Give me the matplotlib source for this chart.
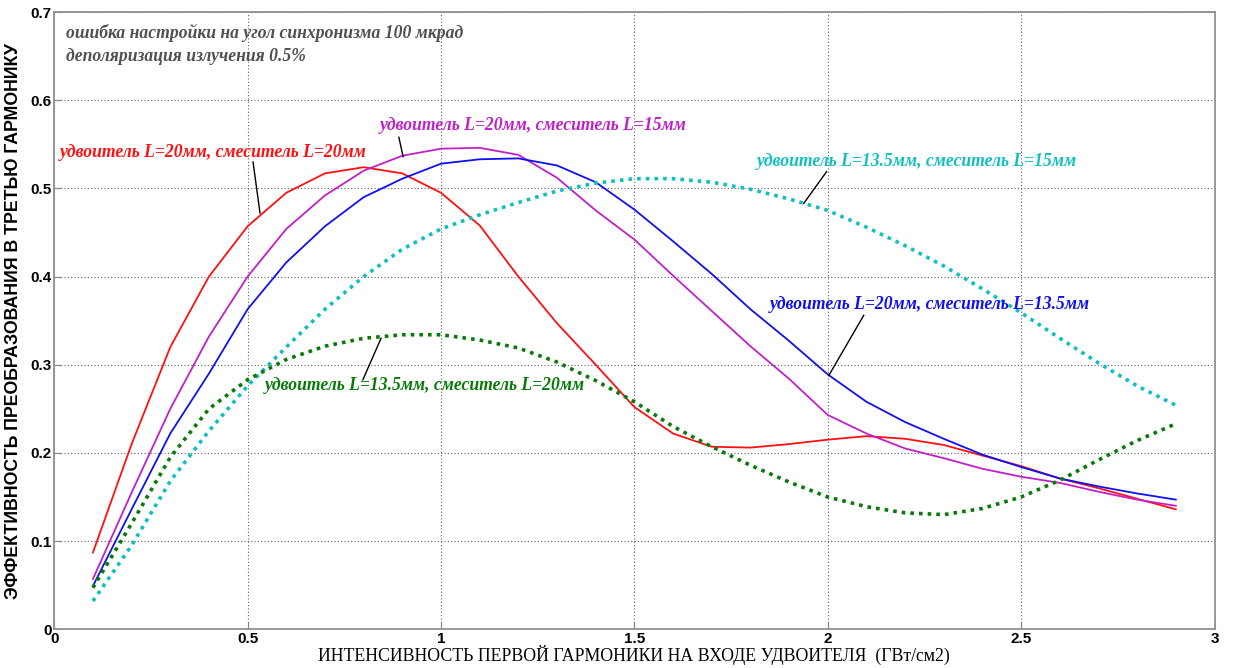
import numpy as np
import matplotlib
matplotlib.use("Agg")
import matplotlib.pyplot as plt

# intensity of the first harmonic, GW/cm2
x = [0.1, 0.2, 0.3, 0.4, 0.5, 0.6, 0.7, 0.8, 0.9, 1.0,
     1.1, 1.2, 1.3, 1.4, 1.5, 1.6, 1.7, 1.8, 1.9, 2.0,
     2.1, 2.2, 2.3, 2.4, 2.5, 2.6, 2.7, 2.8, 2.9]

# doubler L=20mm, mixer L=20mm
red = [0.087, 0.21, 0.32, 0.40, 0.457, 0.495, 0.517, 0.524, 0.517, 0.495,
       0.458, 0.40, 0.347, 0.300, 0.252, 0.222, 0.207, 0.206, 0.210, 0.215,
       0.219, 0.216, 0.209, 0.197, 0.185, 0.171, 0.160, 0.148, 0.136]
# doubler L=20mm, mixer L=15mm
magenta = [0.057, 0.155, 0.25, 0.332, 0.40, 0.454, 0.492, 0.52, 0.537, 0.545,
           0.546, 0.538, 0.512, 0.475, 0.442, 0.401, 0.361, 0.321, 0.284, 0.243,
           0.222, 0.205, 0.194, 0.182, 0.173, 0.166, 0.156, 0.147, 0.140]
# doubler L=20mm, mixer L=13.5mm
blue = [0.049, 0.136, 0.222, 0.29, 0.363, 0.416, 0.457, 0.49, 0.511, 0.528,
        0.533, 0.534, 0.526, 0.507, 0.476, 0.440, 0.403, 0.363, 0.327, 0.289,
        0.258, 0.235, 0.216, 0.198, 0.184, 0.171, 0.162, 0.154, 0.147]
# doubler L=13.5mm, mixer L=15mm
cyan = [0.032, 0.095, 0.168, 0.225, 0.276, 0.32, 0.363, 0.40, 0.431, 0.454,
        0.470, 0.484, 0.497, 0.506, 0.511, 0.511, 0.507, 0.499, 0.488, 0.475,
        0.456, 0.435, 0.412, 0.386, 0.359, 0.330, 0.302, 0.276, 0.254]
# doubler L=13.5mm, mixer L=20mm
green = [0.047, 0.12, 0.195, 0.25, 0.283, 0.306, 0.321, 0.330, 0.334, 0.334,
         0.328, 0.319, 0.303, 0.282, 0.258, 0.230, 0.207, 0.186, 0.167, 0.150,
         0.139, 0.132, 0.130, 0.137, 0.150, 0.169, 0.192, 0.214, 0.233]

xticks = [0, 0.5, 1, 1.5, 2, 2.5, 3]
yticks = [0, 0.1, 0.2, 0.3, 0.4, 0.5, 0.6, 0.7]

fig = plt.figure(figsize=(12.33, 6.68), dpi=100)
ax = fig.add_axes([0.044, 0.058, 0.941, 0.924])

ax.plot(x, red, color="#ff1010", lw=1.3)
ax.plot(x, magenta, color="#c020c8", lw=1.3)
ax.plot(x, blue, color="#1010f0", lw=1.3)
ax.plot(x, cyan, color="#10c0c0", lw=2.6, linestyle=(0, (1, 1.4)))
ax.plot(x, green, color="#087a08", lw=2.6, linestyle=(0, (1, 1.4)))

ax.set_xlim(0, 3)
ax.set_ylim(0, 0.7)
ax.set_xticks(xticks)
ax.set_yticks(yticks)
ax.set_xticklabels([f"{t:g}" for t in xticks], fontfamily="Liberation Sans",
                   fontweight="bold", fontsize=11)
ax.set_yticklabels([f"{t:g}" for t in yticks], fontfamily="Liberation Sans",
                   fontweight="bold", fontsize=11)
ax.tick_params(direction="in", length=5, color="#808080", pad=2)
ax.grid(True, color="#606060", linestyle=(0, (1, 2)), lw=0.8)
for s in ax.spines.values():
    s.set_color("#909090")
    s.set_linewidth(1.3)

fig.text(0.514, 0.004,
         "ИНТЕНСИВНОСТЬ ПЕРВОЙ ГАРМОНИКИ НА ВХОДЕ УДВОИТЕЛЯ  (ГВт/см2)",
         fontfamily="Liberation Serif", fontsize=12.8, ha="center", va="bottom")
ax.set_ylabel("ЭФФЕКТИВНОСТЬ ПРЕОБРАЗОВАНИЯ В ТРЕТЬЮ ГАРМОНИКУ",
              fontfamily="Liberation Sans", fontweight="bold", fontsize=12.8,
              labelpad=6)

note = dict(fontfamily="Liberation Serif", fontstyle="italic",
            fontweight="bold", fontsize=12.7)
ax.text(0.03, 0.676, "ошибка настройки на угол синхронизма 100 мкрад",
        color="#505050", va="center", **note)
ax.text(0.03, 0.649, "деполяризация излучения 0.5%", color="#505050",
        va="center", **note)

labels = [
    ("удвоитель L=20мм, смеситель L=20мм", "#ff1010", (0.015, 0.541),
     (0.514, 0.530), (0.532, 0.472)),
    ("удвоитель L=20мм, смеситель L=15мм", "#c020c8", (0.842, 0.571),
     (0.891, 0.558), (0.902, 0.536)),
    ("удвоитель L=13.5мм, смеситель L=15мм", "#10c0c0", (1.817, 0.530),
     (1.997, 0.519), (1.938, 0.483)),
    ("удвоитель L=20мм, смеситель L=13.5мм", "#1010f0", (1.85, 0.368),
     (2.093, 0.356), (2.003, 0.288)),
    ("удвоитель L=13.5мм, смеситель L=20мм", "#087a08", (0.545, 0.277),
     (0.845, 0.330), (0.798, 0.283)),
]
for text, col, pos, p0, p1 in labels:
    ax.plot([p0[0], p1[0]], [p0[1], p1[1]], color="black", lw=1)
    ax.text(pos[0], pos[1], text, color=col, va="center", **note)

fig.savefig("out.png", dpi=100)
